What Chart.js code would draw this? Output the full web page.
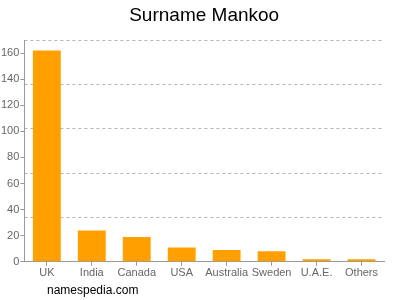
<!DOCTYPE html>
<html>
<head>
<meta charset="utf-8">
<script src="https://cdn.jsdelivr.net/npm/chart.js@4"></script>
<style>
html,body{margin:0;padding:0;background:#fff;}
#wrap{position:relative;width:400px;height:300px;}
</style>
</head>
<body>
<div id="wrap"><canvas id="c" width="400" height="300"></canvas></div>
<script>
const categories = ["UK", "India", "Canada", "USA", "Australia", "Sweden", "U.A.E.", "Others"];
const counts = [162, 24, 19, 11, 9, 8, 2, 2];
const yTickValues = [0, 20, 40, 60, 80, 100, 120, 140, 160];
const gridValues = [34, 68, 102, 136, 170];
const yMax = 170;
const titleText = "Surname Mankoo";
const footerText = "namespedia.com";

const FONT = "'Liberation Sans', Arial, sans-serif";

const textPlugin = {
  id: 'texts',
  afterDraw(chart) {
    const ctx = chart.ctx;
    const a = chart.chartArea;
    ctx.save();
    ctx.fillStyle = '#000';
    ctx.font = '19px ' + FONT;
    ctx.textAlign = 'center';
    ctx.textBaseline = 'alphabetic';
    ctx.fillText(titleText, (a.left + a.right) / 2, 21);
    ctx.font = '12px ' + FONT;
    ctx.textAlign = 'left';
    ctx.fillText(footerText, 47, 294);
    ctx.restore();
  }
};

new Chart(document.getElementById('c'), {
  type: 'bar',
  data: {
    labels: categories,
    datasets: [{
      data: counts,
      backgroundColor: '#ffa000',
      borderWidth: 0,
      barPercentage: 0.62,
      categoryPercentage: 1.0
    }]
  },
  options: {
    responsive: false,
    animation: false,
    devicePixelRatio: 1,
    layout: { padding: { left: 0, right: 16, top: 40, bottom: 19 } },
    plugins: {
      legend: { display: false },
      title: { display: false },
      tooltip: { enabled: false }
    },
    scales: {
      x: {
        offset: true,
        grid: { display: true, drawOnChartArea: false, offset: false, tickLength: 4, color: '#999' },
        border: { display: true, color: '#999' },
        ticks: { color: '#666', font: { family: FONT, size: 11 }, padding: 1, maxRotation: 0, autoSkip: false }
      },
      y: {
        position: 'left',
        min: 0,
        max: yMax,
        afterBuildTicks(axis) { axis.ticks = yTickValues.map(v => ({ value: v })); },
        grid: { display: true, drawOnChartArea: false, tickLength: 4, color: '#999' },
        border: { display: true, color: '#999' },
        ticks: { color: '#666', font: { family: FONT, size: 11 }, padding: 1 }
      },
      yGrid: {
        position: 'right',
        min: 0,
        max: yMax,
        afterBuildTicks(axis) { axis.ticks = gridValues.map(v => ({ value: v })); },
        grid: { display: true, drawTicks: false, color: '#b5b5b5', lineWidth: 1 },
        border: { display: false, dash: [3, 3] },
        ticks: { display: false }
      }
    }
  },
  plugins: [textPlugin]
});
</script>
</body>
</html>
